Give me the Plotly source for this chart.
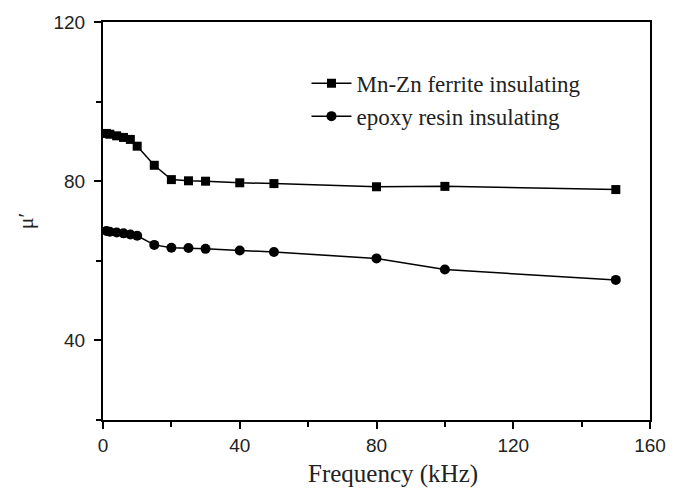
import plotly.graph_objects as go

freq = [1, 2, 4, 6, 8, 10, 15, 20, 25, 30, 40, 50, 80, 100, 150]
mnzn = [92.0, 91.8, 91.4, 91.0, 90.5, 88.8, 84.0, 80.4, 80.1, 80.0, 79.6, 79.4, 78.6, 78.7, 77.9]
epoxy = [67.5, 67.3, 67.1, 66.9, 66.6, 66.3, 64.0, 63.3, 63.2, 63.0, 62.6, 62.2, 60.6, 57.8, 55.2]
names = ["Mn-Zn ferrite insulating", "epoxy resin insulating"]
x_title = "Frequency (kHz)"
y_title = "μ′"

SERIF = "'Liberation Serif', 'Times New Roman', serif"
SANS = "'Liberation Sans', Arial, sans-serif"

fig = go.Figure()
fig.add_trace(go.Scatter(x=freq, y=mnzn, mode="lines+markers", name=names[0],
                         line=dict(color="black", width=1.5),
                         marker=dict(symbol="square", size=9, color="black")))
fig.add_trace(go.Scatter(x=freq, y=epoxy, mode="lines+markers", name=names[1],
                         line=dict(color="black", width=1.5),
                         marker=dict(symbol="circle", size=10, color="black")))

axis_common = dict(showgrid=False, zeroline=False, showline=True, linecolor="black",
                   linewidth=2, mirror=True, ticks="outside", ticklen=7, tickwidth=1.5,
                   tickcolor="black",
                   tickfont=dict(family=SANS, size=19, color="#222"),
                   minor=dict(ticks="outside", ticklen=5, tickwidth=1.5, tickcolor="black"))

fig.update_layout(
    width=683, height=494, margin=dict(l=103, r=33, t=20, b=74),
    plot_bgcolor="white", paper_bgcolor="white",
    font=dict(family=SERIF, color="#222"),
    xaxis=dict(range=[0, 160], tickvals=[0, 40, 80, 120, 160],
               minor_tickvals=[20, 60, 100, 140],
               **axis_common),
    yaxis=dict(range=[20, 120], tickvals=[40, 80, 120],
               minor_tickvals=[20, 60, 100], ticklabelstandoff=5,
               title=dict(text=y_title, standoff=14,
                          font=dict(family=SERIF, size=22, color="#222")),
               **axis_common),
    legend=dict(x=0.372, y=0.90, xanchor="left", yanchor="top",
                bgcolor="rgba(0,0,0,0)",
                font=dict(family=SERIF, size=23, color="#222"),
                tracegroupgap=0, itemwidth=40),
    annotations=[dict(text=x_title, xref="paper", yref="paper", x=0.53, y=-0.135,
                      xanchor="center", yanchor="middle", showarrow=False,
                      font=dict(family=SERIF, size=25, color="#222"))],
)

fig.write_html("out.html")
